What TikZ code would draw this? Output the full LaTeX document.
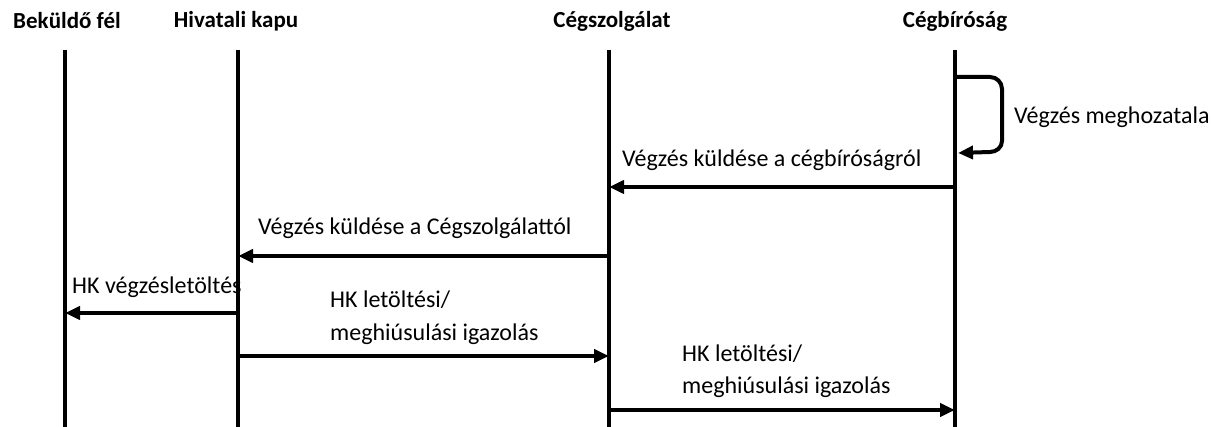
\documentclass[tikz,border=0pt]{standalone}
\usepackage{fontspec}
\setmainfont{Carlito}
\usetikzlibrary{arrows.meta}
\begin{document}
\begin{tikzpicture}[x=1pt,y=-1pt,
  head/.style={font=\bfseries\fontsize{23}{27}\selectfont,inner sep=0pt},
  lbl/.style={font=\fontsize{24}{28}\selectfont,inner sep=0pt,anchor=west,align=left},
  life/.style={line width=4.5pt},
  msg/.style={line width=4pt,-{Triangle[length=15pt,width=13pt]}}]
\useasboundingbox (0,0) rectangle (1213,427);
% headers
\node[head] (h1) at (67,21) {Beküldő fél};
\node[head] (h2) at (236,21) {Hivatali kapu};
\node[head] (h3) at (612,21) {Cégszolgálat};
\node[head] (h4) at (955,21) {Cégbíróság};
% lifelines
\coordinate (t1) at (65,50);  \coordinate (b1) at (65,427);
\coordinate (t2) at (238,50); \coordinate (b2) at (238,427);
\coordinate (t3) at (609,50); \coordinate (b3) at (609,427);
\coordinate (t4) at (955,50); \coordinate (b4) at (955,427);
\draw[life] (t1) -- (b1);
\draw[life] (t2) -- (b2);
\draw[life] (t3) -- (b3);
\draw[life] (t4) -- (b4);
% self loop
\coordinate (s1) at (957,77);
\coordinate (s2) at (958,153);
\draw[msg] (s1) -- (990,77) to[out=0,in=90] (1002,89) -- (1002,141) to[out=-90,in=0] (990,152) -- (s2);
\node[lbl] (l0) at (1014,117) {Végzés meghozatala};
% messages
\coordinate (a4) at (955,187); \coordinate (a3) at (609,187);
\draw[msg] (a4) -- (a3);
\node[lbl] (l1) at (622,160) {Végzés küldése a cégbíróságról};
\coordinate (m3) at (609,256); \coordinate (m2) at (238,256);
\draw[msg] (m3) -- (m2);
\node[lbl] (l2) at (258,228) {Végzés küldése a Cégszolgálattól};
\coordinate (k2) at (238,313); \coordinate (k1) at (65,313);
\draw[msg] (k2) -- (k1);
\node[lbl] (l3) at (72,287) {HK végzésletöltés};
\coordinate (p2) at (238,356); \coordinate (p3) at (609,356);
\draw[msg] (p2) -- (p3);
\node[lbl] (l4a) at (330,300) {HK letöltési/};
\node[lbl] (l4b) at (330,334) {meghiúsulási igazolás};
\coordinate (q3) at (609,410); \coordinate (q4) at (955,410);
\draw[msg] (q3) -- (q4);
\node[lbl] (l5a) at (682,354) {HK letöltési/};
\node[lbl] (l5b) at (682,387) {meghiúsulási igazolás};
\end{tikzpicture}
\end{document}
